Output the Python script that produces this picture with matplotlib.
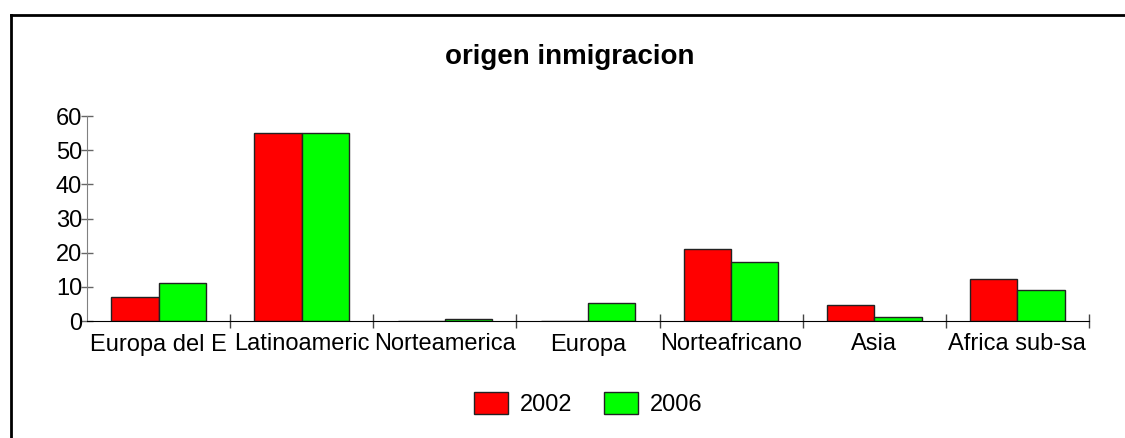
import matplotlib.pyplot as plt
from matplotlib.lines import Line2D
import numpy as np

categories = ["Europa del E", "Latinoameric", "Norteamerica", "Europa",
              "Norteafricano", "Asia", "Africa sub-sa"]
v2002 = [7.0, 55.0, 0.0, 0.0, 21.0, 4.7, 12.2]
v2006 = [11.0, 55.0, 0.5, 5.2, 17.3, 1.1, 9.0]
yticks = [0, 10, 20, 30, 40, 50, 60]

plt.rcParams['font.family'] = ['Liberation Sans', 'DejaVu Sans']

fig = plt.figure(figsize=(11.25, 4.38), dpi=100)
ax = fig.add_axes([87/1125, 1-321/438, (1089-87)/1125, (321-116)/438])

x = np.arange(len(categories)) + 0.5
w = 0.33
ax.bar(x - w/2, v2002, w, color='#ff0000', edgecolor='#222222', linewidth=1, label='2002')
ax.bar(x + w/2, v2006, w, color='#00ff00', edgecolor='#222222', linewidth=1, label='2006')

ax.set_xlim(0, len(categories))
ax.set_ylim(0, 60)
ax.set_yticks(yticks)
ax.set_yticklabels([str(t) for t in yticks], fontsize=17)
ax.set_xticks(np.arange(1, len(categories) + 1))
ax.set_xticklabels([])
ax.set_xticks(x, minor=True)
ax.set_xticklabels(categories, minor=True, fontsize=17)
ax.tick_params(axis='x', which='major', direction='inout', length=10, width=1, color='#444444')
ax.tick_params(axis='x', which='minor', length=0, pad=9)
ax.tick_params(axis='y', direction='inout', length=9, width=1, color='#666666', pad=-1)

for s in ['top', 'right']:
    ax.spines[s].set_visible(False)
ax.spines['left'].set_color('#808080')
ax.spines['bottom'].set_color('black')

fig.text(570/1125, 1-57/438, "origen inmigracion", ha='center', va='center',
         fontsize=20, fontweight='bold')

fig.legend(loc='center', bbox_to_anchor=(588/1125, 1-404/438), ncol=2, frameon=False,
           fontsize=17, handlelength=1.44, handleheight=1.02, handletextpad=0.5,
           columnspacing=1.36)

# frame: only left and top edges show in the picture
fx, fy = 11/1125, 1-15/438
fig.add_artist(Line2D([fx, fx], [0, fy], transform=fig.transFigure, color='black', linewidth=2))
fig.add_artist(Line2D([fx, 1], [fy, fy], transform=fig.transFigure, color='black', linewidth=2))

fig.savefig('out.png', dpi=100)
